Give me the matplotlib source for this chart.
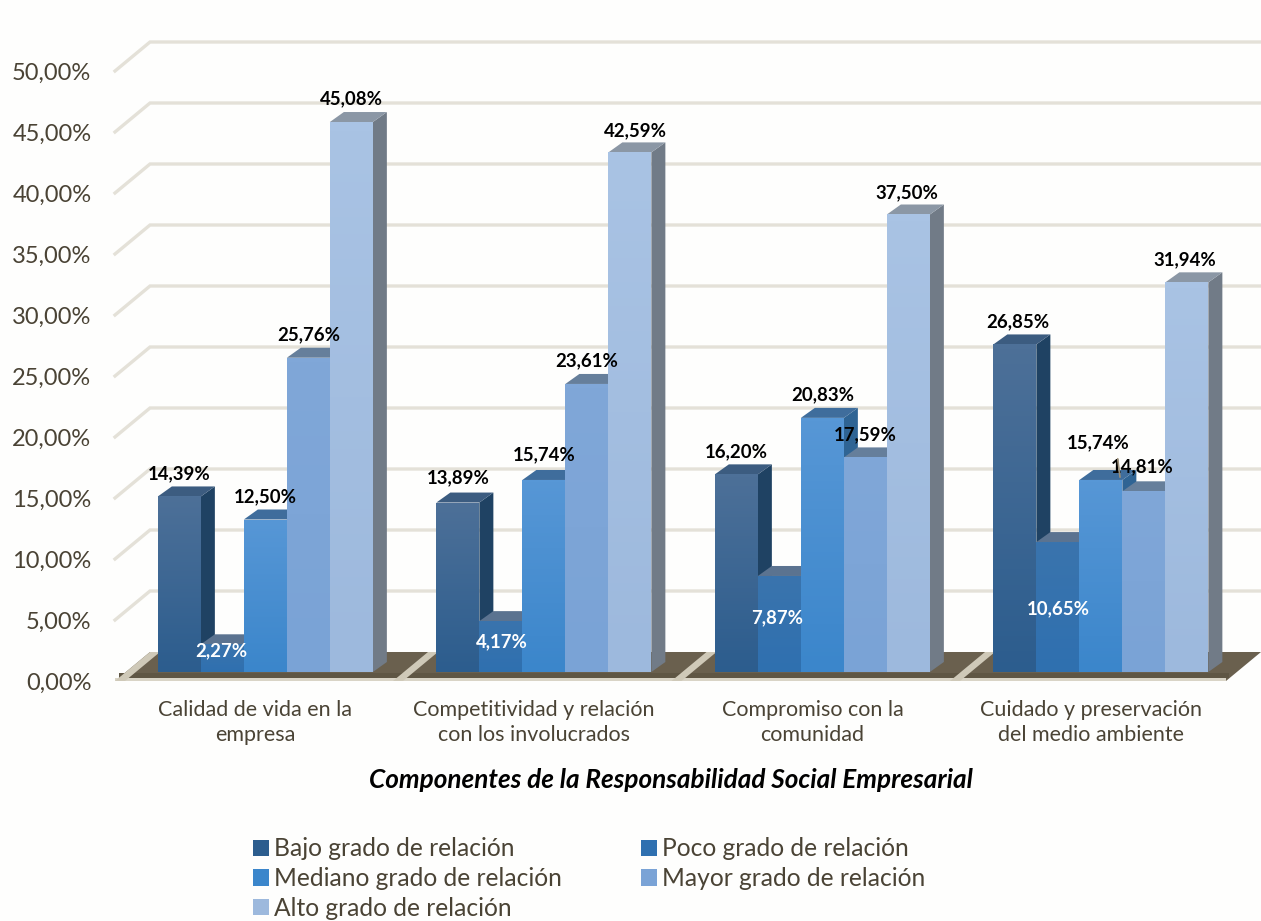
import matplotlib
matplotlib.use('Agg')
import matplotlib.pyplot as plt
import numpy as np
from matplotlib.colors import LinearSegmentedColormap
from matplotlib.patches import Patch, Polygon
from matplotlib.transforms import ScaledTranslation

plt.rcParams['font.family'] = ['Lato', 'DejaVu Sans']

# Datos
categories = ['Calidad de vida en la\nempresa',
              'Competitividad y relación\ncon los involucrados',
              'Compromiso con la\ncomunidad',
              'Cuidado y preservación\ndel medio ambiente']
series_names = ['Bajo grado de relación', 'Poco grado de relación',
                'Mediano grado de relación', 'Mayor grado de relación',
                'Alto grado de relación']
bajo = [14.39, 13.89, 16.20, 26.85]
poco = [2.27, 4.17, 7.87, 10.65]
mediano = [12.50, 15.74, 20.83, 15.74]
mayor = [25.76, 23.61, 17.59, 14.81]
alto = [45.08, 42.59, 37.50, 31.94]
series_values = [bajo, poco, mediano, mayor, alto]
y_ticks = [0, 5, 10, 15, 20, 25, 30, 35, 40, 45, 50]

# Colores: arriba y abajo del frente, lado, tapa
front_top = ['#4d7098', '#3a74ad', '#5797d6', '#80a7d8', '#a9c3e4']
front_bottom = ['#2c5d8e', '#2f70b0', '#3b86cb', '#7aa3d6', '#9db9dd']
side_colors = ['#1f4263', '#244a70', '#2f6494', '#55759b', '#717b87']
top_colors = ['#3c5c80', '#5b7390', '#3f6d9c', '#667f9b', '#8b97a5']
text_color = '#4a4335'
grid_color = '#e4e1d8'

W, H = 1261, 921
fig = plt.figure(figsize=(W / 100, H / 100), dpi=100, facecolor='#fefefd')
left, right, bottom, top = 115, W, 681, 71
ax = fig.add_axes([left / W, 1 - bottom / H, (right - left) / W, (bottom - top) / H])
ax.patch.set_alpha(0)
period = 278.5
center0 = 255.5
xlim = ((left - center0) / period, (right - center0) / period)
ylim = (0, 50)
ax.set_xlim(xlim)
ax.set_ylim(ylim)
for s in ax.spines.values():
    s.set_visible(False)

# pasar de pixeles a unidades de datos
px_x = 1 / period
px_y = 50 / (bottom - top)


def depth(d):
    # desplazamiento 3D: d va de 0 (frente) a 29 (pared del fondo)
    return d * 35 / 29 * px_x, d * px_y


wall_dx, wall_dy = depth(29)
x_end = xlim[1]

# Suelo
ax.add_patch(Polygon([(xlim[0], 0), (xlim[0] + wall_dx, wall_dy), (x_end, wall_dy), (x_end - wall_dx, 0)],
                     closed=True, fc='#6a604e', ec='none', zorder=1))
ax.fill_between([xlim[0], x_end - wall_dx], 0, 3 * px_y, color='#d9d4c6', lw=0, zorder=1.2)
ax.fill_between([xlim[0] + 4 * px_x, x_end - wall_dx + 3 * px_x], 3 * px_y, 8 * px_y, color='#5f5644', lw=0, zorder=1.2)
for k in range(4):
    sx = xlim[0] if k == 0 else (393 + (k - 1) * period - center0) * px_x
    w = 10 * px_x
    ax.add_patch(Polygon([(sx, 0), (sx + wall_dx, wall_dy), (sx + wall_dx + w, wall_dy), (sx + w, 0)],
                         closed=True, fc='#cfc9b8', ec='none', zorder=1.3))

# Rejilla con el tramo inclinado a la izquierda
for t in y_ticks[1:]:
    ax.plot([xlim[0], xlim[0] + wall_dx, x_end], [t, t + wall_dy, t + wall_dy], color=grid_color,
            lw=2.4, solid_joinstyle='miter', clip_on=False, zorder=2)

# Barras
bar_w = 43 * px_x
n = len(series_values)
dx1, dy1 = depth(9)
dx1 -= 1 * px_x
sd_x = 14 * px_x
sd_y = 10 * px_y
z = 3
for g in range(len(categories)):
    for i in range(n):
        h = series_values[i][g]
        x0 = g + (i - n / 2) * bar_w + dx1
        x1 = x0 + bar_w
        base = dy1
        ytop = base + h
        ax.add_patch(Polygon([(x1, base), (x1 + sd_x, base + sd_y), (x1 + sd_x, ytop + sd_y), (x1, ytop)],
                             closed=True, fc=side_colors[i], ec='none', zorder=z))
        ax.add_patch(Polygon([(x0, ytop), (x0 + sd_x, ytop + sd_y), (x1 + sd_x, ytop + sd_y), (x1, ytop)],
                             closed=True, fc=top_colors[i], ec='none', zorder=z))
        rect = ax.bar(x0, h, width=bar_w, bottom=base, align='edge', color=front_bottom[i], lw=0, zorder=z + 0.1)[0]
        cmap = LinearSegmentedColormap.from_list('f', [front_bottom[i], front_top[i]])
        im = ax.imshow(np.linspace(1, 0, 64).reshape(-1, 1), cmap=cmap, vmin=0, vmax=1, aspect='auto',
                       extent=(x0, x1, base, ytop), zorder=z + 0.2)
        im.set_clip_path(rect)
        z += 1
ax.set_xlim(xlim)
ax.set_ylim(ylim)

# Etiquetas de valor; desplazamiento en pixeles donde no van encima de la barra
label_offsets = {(0, 1): (-1, -6), (1, 1): (1, -21), (2, 1): (-2, -42), (3, 1): (0, -67),
                 (1, 4): (6, 22), (2, 3): (0, 23), (3, 2): (-3, 37), (3, 3): (-2, 25),
                 (3, 0): (3, 23), (3, 4): (-2, 23), (2, 4): (-2, 22), (1, 0): (0, 25), (1, 2): (0, 25)}
for g in range(len(categories)):
    for i in range(n):
        h = series_values[i][g]
        xc = g + (i + 0.5 - n / 2) * bar_w + dx1
        off = label_offsets.get((g, i), (0, 23))
        col = 'white' if i == 1 else 'black'
        ax.annotate(f'{h:.2f}%'.replace('.', ','), (xc, dy1 + h), xytext=off, textcoords='offset pixels',
                    ha='center', va='center', fontsize=13.4, fontweight='bold', color=col, zorder=200)
# linea guia de 15,74%
ax.annotate('', (3 + 0.5 * bar_w + dx1 - 2 * px_x, dy1 + mediano[3]), xytext=(-3, 24),
            textcoords='offset pixels', arrowprops=dict(arrowstyle='-', color='#9c8f78', lw=1.2), zorder=200)

# Ejes
ax.set_yticks(y_ticks)
ax.set_yticklabels([f'{t:.2f}%'.replace('.', ',') for t in y_ticks], fontsize=17, color=text_color)
ax.set_xticks(range(len(categories)))
ax.set_xticklabels(categories, fontsize=15.5, color=text_color, linespacing=1.3)
ax.tick_params(axis='both', length=0)
ax.tick_params(axis='y', pad=17)
ax.tick_params(axis='x', pad=14)
shift = ScaledTranslation(0, -1 / 72 * 0.5, fig.dpi_scale_trans)
for lab in ax.get_yticklabels():
    lab.set_transform(lab.get_transform() + shift)
ax.set_xlabel('Componentes de la Responsabilidad Social Empresarial', fontsize=18.8, fontweight='bold',
              fontstyle='italic', color='black', va='center')
ax.xaxis.set_label_coords((671 - left) / (right - left), -(780 - bottom) / (bottom - top))

# Leyenda: se llena por columnas, asi queda en el orden de la figura
order = [0, 2, 4, 1, 3]
handles = [Patch(fc=front_bottom[i], ec='none', label=series_names[i]) for i in order]
leg = fig.legend(handles=handles, ncol=2, loc='upper left', bbox_to_anchor=(246 / W, 1 - 830 / H),
                 frameon=False, fontsize=17.7, labelcolor=text_color, handlelength=0.65, handleheight=0.65,
                 handletextpad=0.2, labelspacing=0.27, columnspacing=3.2, borderpad=0.3, borderaxespad=0)

fig.savefig('out.png', dpi=100, facecolor=fig.get_facecolor())
